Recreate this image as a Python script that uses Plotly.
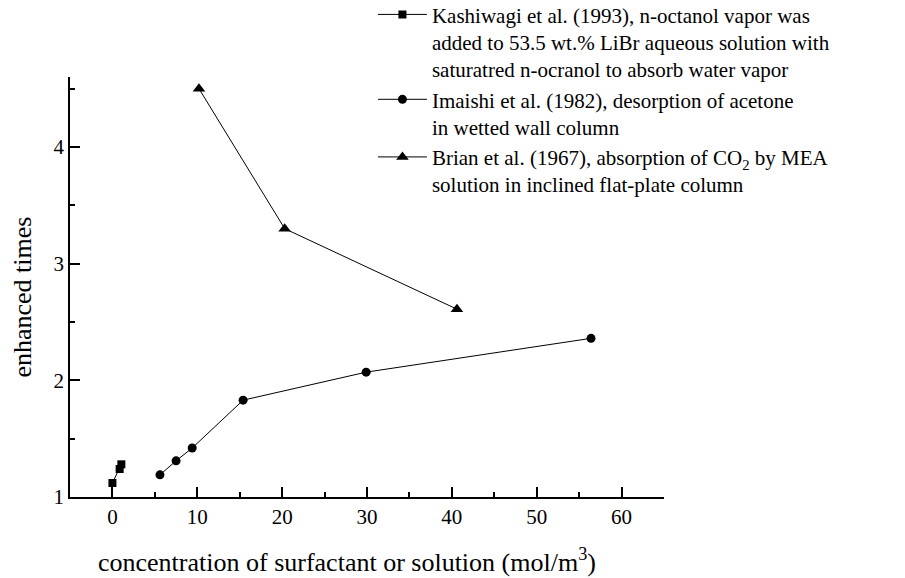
import plotly.graph_objects as go

# Kashiwagi et al. (1993)
kash_x = [0, 0.85, 1.05]
kash_y = [1.12, 1.24, 1.28]

# Imaishi et al. (1982)
imai_x = [5.6, 7.5, 9.4, 15.4, 29.9, 56.4]
imai_y = [1.19, 1.31, 1.42, 1.83, 2.07, 2.36]

# Brian et al. (1967)
brian_x = [10.2, 20.3, 40.6]
brian_y = [4.50, 3.30, 2.61]

names = [
    "Kashiwagi et al. (1993), n-octanol vapor was<br>added to 53.5 wt.% LiBr aqueous solution with<br>saturatred n-ocranol to absorb water vapor",
    "Imaishi et al. (1982), desorption of acetone<br>in wetted wall column",
    "Brian et al. (1967), absorption of CO<sub>2</sub> by MEA<br>solution in inclined flat-plate column",
]

font = "Liberation Serif"

fig = go.Figure()
fig.add_trace(go.Scatter(x=kash_x, y=kash_y, name=names[0], mode="lines+markers",
                         line=dict(color="black", width=1),
                         marker=dict(symbol="square", size=8, color="black")))
fig.add_trace(go.Scatter(x=imai_x, y=imai_y, name=names[1], mode="lines+markers",
                         line=dict(color="black", width=1),
                         marker=dict(symbol="circle", size=9, color="black")))
fig.add_trace(go.Scatter(x=brian_x, y=brian_y, name=names[2], mode="lines+markers",
                         line=dict(color="black", width=1),
                         marker=dict(symbol="triangle-up", size=11, color="black")))

axis_common = dict(showgrid=False, zeroline=False, showline=True, linecolor="black",
                   linewidth=1.5, ticks="inside", ticklen=10, tickwidth=1.5, tickcolor="black",
                   tickfont=dict(family=font, size=21, color="black"), automargin=False,
                   minor=dict(ticks="inside", ticklen=5, tickwidth=1.5, tickcolor="black"))

fig.update_xaxes(range=[-5, 65], tickvals=[0, 10, 20, 30, 40, 50, 60],
                 minor_dtick=5, **axis_common)
fig.update_yaxes(range=[1, 4.6], tickvals=[1, 2, 3, 4], minor_dtick=0.5, **axis_common)

# axis titles
fig.add_annotation(text="concentration of surfactant or solution (mol/m<sup>3</sup>)",
                   xref="paper", yref="paper", x=0.466, y=-0.15, xanchor="center", yanchor="middle",
                   showarrow=False, font=dict(family=font, size=26, color="black"))
fig.add_annotation(text="enhanced times", textangle=-90,
                   xref="paper", yref="paper", x=-0.08, y=0.476, xanchor="center", yanchor="middle",
                   showarrow=False, font=dict(family=font, size=26, color="black"))

# page body adds an 8px offset, so the figure is 8px smaller and shifted
fig.update_layout(
    width=897, height=570,
    margin=dict(l=61.5, r=240.5, t=69, b=81, autoexpand=False),
    paper_bgcolor="white", plot_bgcolor="white",
    font=dict(family=font, color="black"),
    showlegend=True,
    legend=dict(x=0.51, y=1.197, xanchor="left", yanchor="top", valign="top",
                font=dict(family=font, size=21, color="black"),
                bgcolor="rgba(0,0,0,0)", tracegroupgap=0, itemwidth=49),
)

fig.write_html("out.html")
